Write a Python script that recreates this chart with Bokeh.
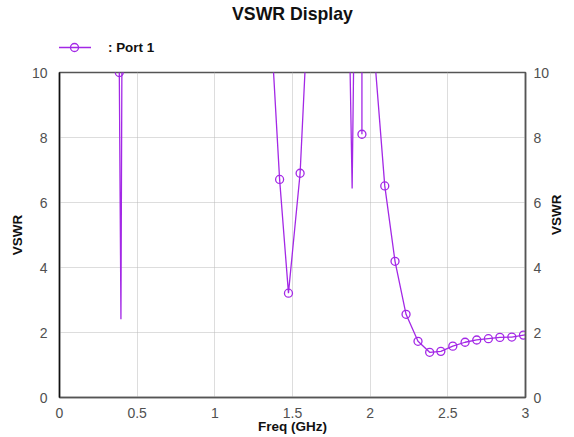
import math
from bokeh.plotting import figure
from bokeh.layouts import column
from bokeh.models import (Range1d, LinearAxis, FixedTicker, Legend, LegendItem,
                          ColumnDataSource)
from bokeh.embed import file_html
from bokeh.resources import INLINE

# ---- data ----
freq_ghz = [0.0, 0.30, 0.375, 0.385, 0.3955, 0.402, 0.41, 0.50,
            1.30, 1.365, 1.417, 1.474, 1.549, 1.60, 1.65,
            1.80, 1.865, 1.884, 1.90, 1.93, 1.946, 1.947, 1.948, 1.98,
            2.02, 2.094, 2.160, 2.231, 2.308, 2.383, 2.455, 2.532,
            2.611, 2.686, 2.761, 2.835, 2.912, 2.987, 3.0]
vswr = [40.0, 40.0, 30.0, 10.0, 2.41, 10.6, 40.0, 40.0,
        40.0, 11.1, 6.71, 3.21, 6.90, 12.0, 40.0,
        40.0, 11.65, 6.43, 12.8, 40.0, 40.0, 8.1, 40.0, 40.0,
        11.0, 6.51, 4.19, 2.56, 1.73, 1.39, 1.42, 1.58,
        1.70, 1.77, 1.81, 1.85, 1.86, 1.92, 1.93]

marker_freq_ghz = [0.385, 1.417, 1.474, 1.549, 1.947, 2.094, 2.160, 2.231,
                   2.308, 2.383, 2.455, 2.532, 2.611, 2.686, 2.761, 2.835,
                   2.912, 2.987]
marker_vswr = [10.0, 6.71, 3.21, 6.90, 8.1, 6.51, 4.19, 2.56,
               1.73, 1.39, 1.42, 1.58, 1.70, 1.77, 1.81, 1.85,
               1.86, 1.92]

x_ticks = [0, 0.5, 1, 1.5, 2, 2.5, 3]
x_tick_labels = ["0", "0.5", "1", "1.5", "2", "2.5", "3"]
y_ticks = [0, 2, 4, 6, 8, 10]
y_tick_labels = ["0", "2", "4", "6", "8", "10"]

series_name = ": Port 1"
title_text = "VSWR Display"
x_label = "Freq (GHz)"
y_label = "VSWR"

# ---- styling ----
PURPLE = "#A328E6"
FONT = "Liberation Sans"
W = 574
HEADER_H = 60
MAIN_H = 437 - HEADER_H

src = ColumnDataSource(dict(x=freq_ghz, y=vswr))
msrc = ColumnDataSource(dict(x=marker_freq_ghz, y=marker_vswr))

# ---- header: title + legend ----
header = figure(width=W, height=HEADER_H, output_backend="svg",
                toolbar_location=None, x_axis_type=None, y_axis_type=None,
                x_range=Range1d(100, 101), y_range=Range1d(100, 101),
                min_border_left=59, min_border_right=46,
                min_border_top=7, min_border_bottom=0,
                outline_line_color=None, background_fill_color="white",
                border_fill_color="white")
header.grid.visible = False
header.title.text = title_text
header.title.align = "center"
header.title.text_font = FONT
header.title.text_font_size = "17.7px"
header.title.text_font_style = "bold"
header.title.text_color = "#111111"
header.title.standoff = 2

# legend entries: same series style (its points lie outside this header's view)
h_line = header.line("x", "y", source=src, line_color=PURPLE, line_width=1.3)
h_mark = header.scatter("x", "y", source=msrc, marker="circle", size=8,
                        line_color=PURPLE, line_width=1.3, fill_color=None)
legend = Legend(items=[LegendItem(label=series_name, renderers=[h_line, h_mark])],
                location=(-2, 3), orientation="horizontal",
                glyph_width=34, glyph_height=20, label_standoff=17,
                padding=0, margin=0, spacing=0,
                border_line_alpha=0, background_fill_alpha=0,
                label_text_font=FONT, label_text_font_size="13.4px",
                label_text_font_style="bold", label_text_color="#111111")
header.add_layout(legend, "center")

# ---- main plot ----
p = figure(width=W, height=MAIN_H, output_backend="svg", toolbar_location=None,
           x_range=Range1d(0, 3), y_range=Range1d(0, 10),
           min_border_left=59, min_border_right=46,
           min_border_top=12, min_border_bottom=40,
           background_fill_color="white", border_fill_color="white")

p.outline_line_color = "#555555"
p.outline_line_width = 1.5

p.line("x", "y", source=src, line_color=PURPLE, line_width=1.3)
p.scatter("x", "y", source=msrc, marker="circle", size=8,
          line_color=PURPLE, line_width=1.3, fill_color=None)


def style_axis(ax, ticks, labels, standoff, label_standoff):
    ax.ticker = FixedTicker(ticks=ticks)
    ax.major_label_overrides = {t: l for t, l in zip(ticks, labels)}
    ax.major_tick_line_color = None
    ax.minor_tick_line_color = None
    ax.major_tick_out = 0
    ax.major_tick_in = 0
    ax.minor_tick_out = 0
    ax.minor_tick_in = 0
    ax.major_label_text_font = FONT
    ax.major_label_text_font_size = "14px"
    ax.major_label_text_color = "#505050"
    ax.major_label_standoff = standoff
    ax.axis_label_text_font = FONT
    ax.axis_label_text_font_size = "13.5px"
    ax.axis_label_text_font_style = "bold"
    ax.axis_label_text_color = "#111111"
    ax.axis_label_standoff = label_standoff


xa = p.xaxis[0]
style_axis(xa, x_ticks, x_tick_labels, 10, -2)
xa.axis_label = x_label
xa.axis_line_color = "#555555"
xa.axis_line_width = 1.5

ya = p.yaxis[0]
style_axis(ya, y_ticks, y_tick_labels, 12, 4)
ya.axis_label = y_label
ya.axis_line_color = "#111111"
ya.axis_line_width = 1.5

ra = LinearAxis()
style_axis(ra, y_ticks, y_tick_labels, 8, 4)
ra.axis_label = y_label
ra.axis_label_orientation = math.pi / 2
ra.axis_line_color = "#555555"
ra.axis_line_width = 1.5
p.add_layout(ra, "right")

for g, ticks in ((p.xgrid[0], x_ticks), (p.ygrid[0], y_ticks)):
    g.ticker = FixedTicker(ticks=ticks)
    g.grid_line_color = "#bbbbbb"
    g.grid_line_dash = "1 1"
    g.grid_line_width = 1

open("out.html", "w").write(file_html(column(header, p, spacing=0), INLINE))
